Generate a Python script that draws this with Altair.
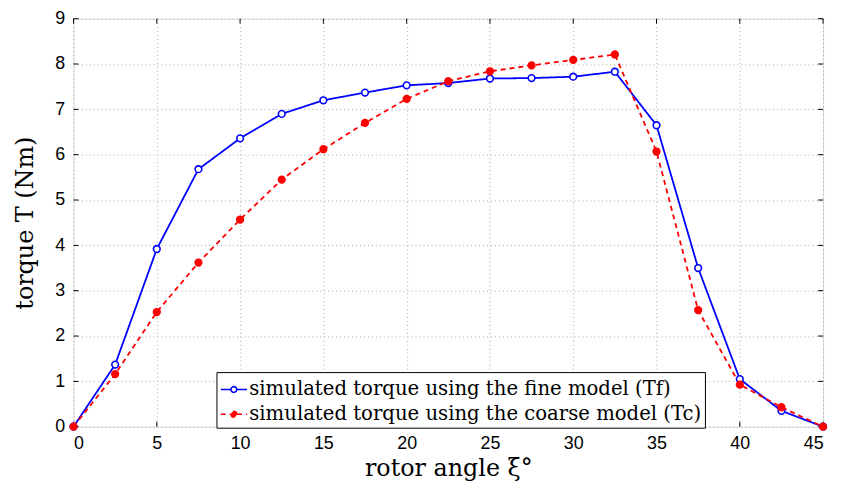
import altair as alt
import pandas as pd

# rotor angle (degrees)
angles = [0, 2.5, 5, 7.5, 10, 12.5, 15, 17.5, 20, 22.5, 25, 27.5, 30, 32.5, 35, 37.5, 40, 42.5, 45]
# simulated torque, fine model (Nm)
fine = [0.0, 1.37, 3.92, 5.68, 6.36, 6.90, 7.20, 7.37, 7.53, 7.58, 7.68, 7.69, 7.72, 7.83, 6.65, 3.50, 1.05, 0.35, 0.0]
# simulated torque, coarse model (Nm)
coarse = [0.0, 1.16, 2.53, 3.62, 4.57, 5.45, 6.12, 6.70, 7.23, 7.62, 7.84, 7.97, 8.09, 8.21, 6.07, 2.57, 0.93, 0.43, 0.0]

series_names = [
    "simulated torque using the fine model (Tf)",
    "simulated torque using the coarse model (Tc)",
]
x_ticks = [0, 5, 10, 15, 20, 25, 30, 35, 40, 45]
y_ticks = [0, 1, 2, 3, 4, 5, 6, 7, 8, 9]

rows = []
for a, v in zip(angles, fine):
    rows.append({"angle": a, "torque": v, "series": series_names[0]})
for a, v in zip(angles, coarse):
    rows.append({"angle": a, "torque": v, "series": series_names[1]})
df = pd.DataFrame(rows)

W, H = 755, 411
serif = "DejaVu Serif"
sans = "Liberation Sans"

xscale = alt.Scale(domain=[0, 45], nice=False, zero=False)
yscale = alt.Scale(domain=[0, 9], nice=False, zero=False)

x_enc = alt.X(
    "angle:Q", scale=xscale,
    axis=alt.Axis(values=x_ticks, title="rotor angle ξ°", grid=True, ticks=False, domain=False,
                  labelFont=sans, labelFontSize=18, labelColor="black", labelPadding=8,
                  titleFont=serif, titleFontSize=24, titleFontWeight="normal", titleColor="black",
                  titlePadding=4, gridColor="#aaaaaa", gridDash=[1, 3], gridWidth=1),
)
y_enc = alt.Y(
    "torque:Q", scale=yscale,
    axis=alt.Axis(values=y_ticks, title="torque T (Nm)", grid=True, ticks=False, domain=False,
                  labelFont=sans, labelFontSize=18, labelColor="black", labelPadding=9,
                  titleFont=serif, titleFontSize=24, titleFontWeight="normal", titleColor="black",
                  titlePadding=17, gridColor="#aaaaaa", gridDash=[1, 3], gridWidth=1),
)

sym_path = "M-1,0H-0.24M0.24,0H1M-0.22,0A0.22,0.22,0,1,0,0.22,0A0.22,0.22,0,1,0,-0.22,0Z"

legend = alt.Legend(
    title=None, orient="none", legendX=144, legendY=356,
    labelFont=serif, labelFontSize=19.8, labelColor="black", labelLimit=0,
    strokeColor="black", fillColor="white", padding=3, rowPadding=0,
    symbolType=sym_path, symbolSize=700, symbolStrokeWidth=1.6, labelOffset=1,
)

color_scale = alt.Scale(domain=series_names, range=["#0000ff", "#ff0000"])
dash_scale = alt.Scale(domain=series_names, range=[[1, 0], [5, 4]])
fill_scale = alt.Scale(domain=series_names, range=["#ffffff", "#ff0000"])

base = alt.Chart(df)
lines = base.mark_line(strokeWidth=1.8).encode(
    x=x_enc, y=y_enc,
    color=alt.Color("series:N", scale=color_scale, legend=legend),
    strokeDash=alt.StrokeDash("series:N", scale=dash_scale, legend=legend),
    detail="series:N",
)
points = base.mark_point(shape="circle", size=45, opacity=1, strokeWidth=1.6).encode(
    x="angle:Q", y="torque:Q",
    stroke=alt.Stroke("series:N", scale=color_scale, legend=legend),
    fill=alt.Fill("series:N", scale=fill_scale, legend=legend),
)

xt = pd.DataFrame({"t": x_ticks})
yt = pd.DataFrame({"t": y_ticks})
tick_bottom = alt.Chart(xt).mark_rule(color="black", strokeWidth=1).encode(
    x="t:Q", y=alt.value(H), y2=alt.value(H - 5))
tick_top = alt.Chart(xt).mark_rule(color="black", strokeWidth=1).encode(
    x="t:Q", y=alt.value(0), y2=alt.value(5))
tick_left = alt.Chart(yt).mark_rule(color="black", strokeWidth=1).encode(
    y="t:Q", x=alt.value(0), x2=alt.value(5))
tick_right = alt.Chart(yt).mark_rule(color="black", strokeWidth=1).encode(
    y="t:Q", x=alt.value(W), x2=alt.value(W - 5))

chart = alt.layer(
    tick_bottom, tick_top, tick_left, tick_right, lines, points
).properties(
    width=W, height=H,
    autosize=alt.AutoSizeParams(type="none"),
    padding={"left": 66, "top": 9, "right": 10, "bottom": 62},
).configure_view(
    stroke="black", strokeWidth=1.5
).configure(background="white")

chart.save("out.html", embed_options={"renderer": "svg", "actions": False})
